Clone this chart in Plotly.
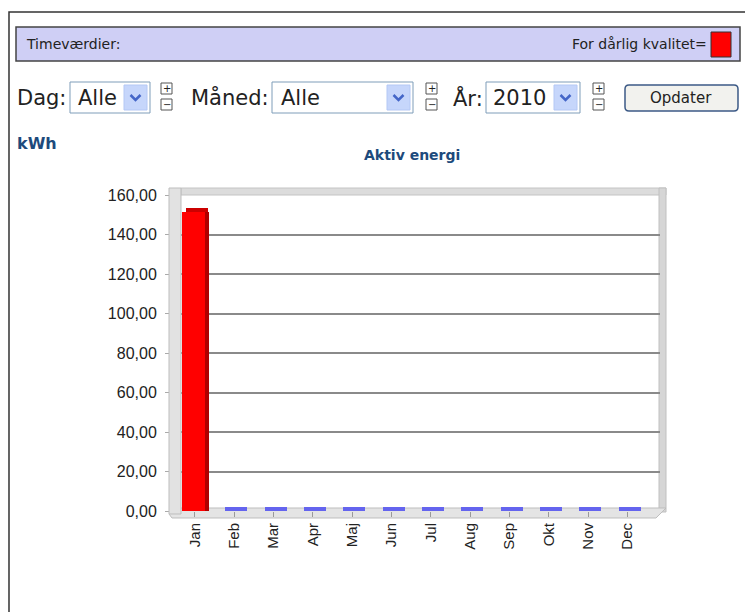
import plotly.graph_objects as go

# --- data -------------------------------------------------------------
months = ["Jan", "Feb", "Mar", "Apr", "Maj", "Jun", "Jul", "Aug", "Sep", "Okt", "Nov", "Dec"]
kwh = [151.5, 0, 0, 0, 0, 0, 0, 0, 0, 0, 0, 0]
bad_quality = [True, False, False, False, False, False, False, False, False, False, False, False]
y_ticks = [0, 20, 40, 60, 80, 100, 120, 140, 160]

# page body has an 8px margin, so the figure is a little smaller than the window
OFF = 8
W, H = 745, 604
ML, MR, MT, MB = 167, 93, 187, 101
PW, PH = W - ML - MR, H - MT - MB


def px(x):
    """page pixel x -> paper x"""
    return (x - OFF - ML) / PW


def py(y):
    """page pixel y (from top) -> paper y"""
    return (H - MB - (y - OFF)) / PH


def rect(x0, y0, x1, y1, fill, line="#444", lw=1, layer="below"):
    return dict(type="rect", xref="paper", yref="paper", layer=layer,
                x0=px(x0), x1=px(x1), y0=py(y1), y1=py(y0),
                fillcolor=fill, line=dict(color=line, width=lw))


def path(pts, color, lw=1, fill=None, close=False):
    d = "M " + " L ".join(f"{px(a):.5f},{py(b):.5f}" for a, b in pts)
    if close:
        d += " Z"
    return dict(type="path", xref="paper", yref="paper", path=d, layer="below",
                fillcolor=fill or "rgba(0,0,0,0)", line=dict(color=color, width=lw))


def rounded(x0, y0, x1, y1, r, fill, line, lw=1):
    def p(a, b):
        return f"{px(a):.5f},{py(b):.5f}"
    d = (f"M {p(x0 + r, y0)} L {p(x1 - r, y0)} Q {p(x1, y0)} {p(x1, y0 + r)} "
         f"L {p(x1, y1 - r)} Q {p(x1, y1)} {p(x1 - r, y1)} "
         f"L {p(x0 + r, y1)} Q {p(x0, y1)} {p(x0, y1 - r)} "
         f"L {p(x0, y0 + r)} Q {p(x0, y0)} {p(x0 + r, y0)} Z")
    return dict(type="path", xref="paper", yref="paper", path=d, layer="below",
                fillcolor=fill, line=dict(color=line, width=lw))


def text(x, y, s, size=13, anchor="left", color="#222", family="DejaVu Sans", bold=False):
    if bold:
        s = f"<b>{s}</b>"
    return dict(xref="paper", yref="paper", x=px(x), y=py(y), text=s, showarrow=False,
                xanchor=anchor, yanchor="middle",
                font=dict(size=size, color=color, family=family))


red = "#ff0000"
dark_red = "#b00000"
blue = "#6464ee"
cap_colors = ["#cc0000" if b else blue for b in bad_quality]
face_colors = [red if b else blue for b in bad_quality]

fig = go.Figure()
# front face
fig.add_trace(go.Bar(x=months, y=kwh, width=0.56, offset=-0.31,
                     marker=dict(color=face_colors, line=dict(width=0))))
# side face
fig.add_trace(go.Bar(x=months, y=kwh, width=0.12, offset=0.25,
                     marker=dict(color=dark_red, line=dict(width=0))))
# top face
fig.add_trace(go.Bar(x=months, y=[2.0] * len(months), base=kwh, width=0.56, offset=-0.22,
                     marker=dict(color=cap_colors, line=dict(width=0))))

shapes = []
# page frame
shapes.append(path([(9, 612), (9, 12), (753, 12)], "#333", lw=1.5))
# header bar
shapes.append(rect(16, 27, 740, 61, "#cfcff5", line="#444", lw=1.5))
shapes.append(rect(711, 32, 731, 57, red, line="#333", lw=1))

# dropdowns: (left, right)
for x0, x1 in [(70, 150), (272, 413), (486, 580)]:
    shapes.append(rect(x0, 82, x1, 113, "white", line="#7f9db9", lw=1))
    shapes.append(rect(x1 - 26, 85, x1 - 3, 110, "#c6d6fb", line="#b4c8f5", lw=1))
    cx = x1 - 14.5
    shapes.append(path([(cx - 5, 95), (cx, 100), (cx + 5, 95)], "#4466c8", lw=2.5))
# +/- steppers
for x0 in [161, 426, 593]:
    shapes.append(rect(x0, 83, x0 + 11, 94, "white", line="#555", lw=1))
    shapes.append(rect(x0, 99, x0 + 11, 110, "white", line="#555", lw=1))
# Opdater button
shapes.append(rounded(625, 85, 738, 111, 4, "#f2f2ee", "#3c5a86", lw=1.5))

# 3D chart walls
shapes.append(rect(181, 188, 666, 195, "#dcdcdc", line="#c4c4c4", lw=1))
shapes.append(rect(659, 188, 666, 512, "#d6d6d6", line="#c0c0c0", lw=1))
shapes.append(path([(169, 514), (172, 518), (656, 518), (666, 508), (181, 508)], "#bdbdbd",
                   lw=1, fill="#e4e4e4", close=True))
shapes.append(rect(169, 188, 181, 514, "#e2e2e2", line="#bdbdbd", lw=1, layer="above"))

anns = [
    text(24, 44, "Timeværdier:", 14),
    text(709, 44, "For dårlig kvalitet=", 14, anchor="right"),
    text(15, 98, "Dag:", 21),
    text(76, 98, "Alle", 21),
    text(189, 98, "Måned:", 21),
    text(279, 98, "Alle", 21),
    text(451, 98, "År:", 21),
    text(491, 98, "2010", 21),
    text(166.5, 88.5, "+", 10, anchor="center"),
    text(166.5, 104.5, "−", 10, anchor="center"),
    text(431.5, 88.5, "+", 10, anchor="center"),
    text(431.5, 104.5, "−", 10, anchor="center"),
    text(598.5, 88.5, "+", 10, anchor="center"),
    text(598.5, 104.5, "−", 10, anchor="center"),
    text(681, 98, "Opdater", 15, anchor="center"),
    text(15, 143, "kWh", 16, color="#1d4a7c", bold=True),
    text(412, 155, "Aktiv energi", 14, anchor="center", color="#1d4a7c", bold=True),
]

fig.update_layout(
    width=W, height=H,
    margin=dict(l=ML, r=MR, t=MT, b=MB),
    paper_bgcolor="white", plot_bgcolor="white",
    barmode="overlay", showlegend=False, bargap=0,
    separators=",.",
    shapes=shapes, annotations=anns,
    font=dict(family="Liberation Sans, Arial", color="#222"),
)
fig.update_xaxes(
    range=[-0.5, 11.83], tickangle=-90, ticks="outside", ticklen=5, tickcolor="#999",
    tickfont=dict(size=15, color="#222"), showgrid=False, zeroline=False,
    showline=False, fixedrange=True,
)
fig.update_yaxes(
    range=[0, 160], tickvals=y_ticks, tickformat=".2f", ticks="outside", ticklen=9,
    tickcolor="#aaa", ticklabelstandoff=5, tickfont=dict(size=16, color="#222"),
    showgrid=True, gridcolor="#8a8a8a", gridwidth=1.5, zeroline=False, showline=False,
    fixedrange=True,
)

fig.write_html("out.html")
